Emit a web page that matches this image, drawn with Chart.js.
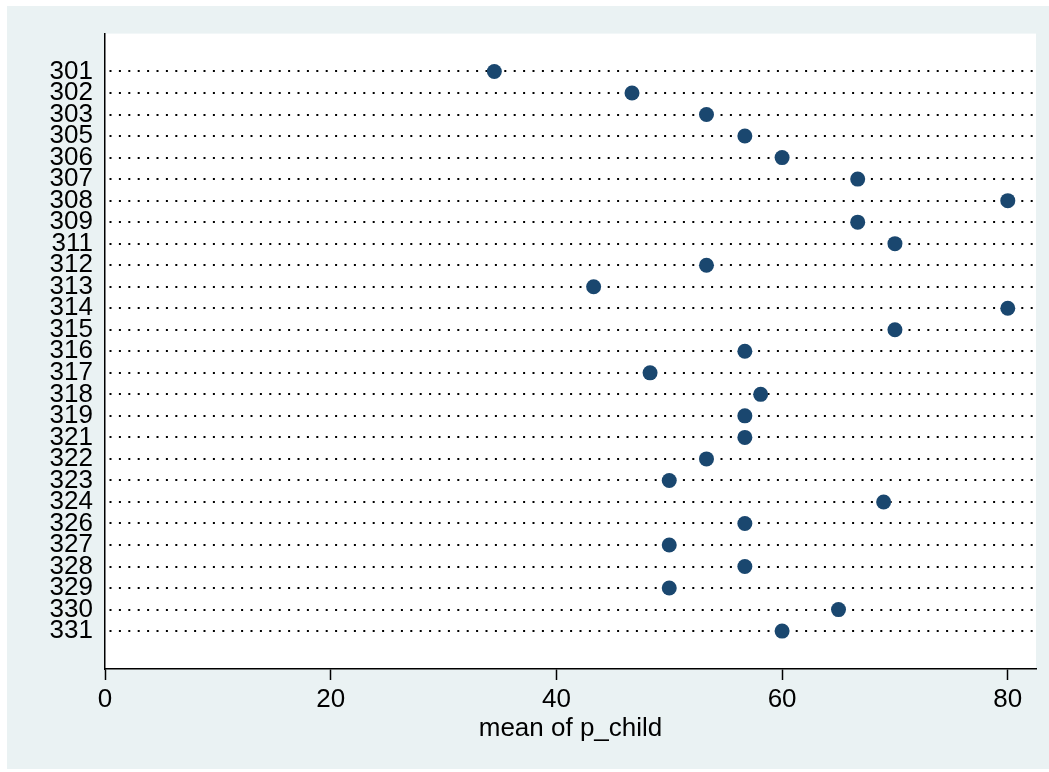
<!DOCTYPE html>
<html>
<head>
<meta charset="utf-8">
<script src="https://cdn.jsdelivr.net/npm/chart.js@4/dist/chart.umd.min.js"></script>
<style>
  html, body { margin: 0; padding: 0; background: #ffffff; }
  #panel { position: absolute; left: 7px; top: 6px; width: 1042px; height: 763px; background: #EAF2F3; }
</style>
</head>
<body>
<div id="panel"><canvas id="dotChart" width="1042" height="763"></canvas></div>
<script>
// Row labels (top to bottom) and mean of p_child for each
const ids = ['301', '302', '303', '305', '306', '307', '308', '309', '311', '312',
             '313', '314', '315', '316', '317', '318', '319', '321', '322', '323',
             '324', '326', '327', '328', '329', '330', '331'];
const meanChild = [34.5, 46.7, 53.3, 56.7, 60.0, 66.7, 80.0, 66.7, 70.0, 53.3,
                   43.3, 80.0, 70.0, 56.7, 48.3, 58.1, 56.7, 56.7, 53.3, 50.0,
                   69.0, 56.7, 50.0, 56.7, 50.0, 65.0, 60.0];
const xTicks = [0, 20, 40, 60, 80];

// white plot region
const plotBg = {
    id: 'plotBg',
    beforeDraw(chart) {
        const a = chart.chartArea;
        const ctx = chart.ctx;
        ctx.save();
        ctx.fillStyle = '#ffffff';
        ctx.fillRect(a.left, a.top, a.right - a.left, a.bottom - a.top);
        ctx.restore();
    }
};

const font = 'Liberation Sans, Arial, sans-serif';

const ctx = document.getElementById('dotChart');
new Chart(ctx, {
    type: 'scatter',
    data: {
        datasets: [{
            data: meanChild.map((v, i) => ({ x: v, y: i })),
            backgroundColor: '#1A476F',
            borderWidth: 0,
            pointRadius: 7.5,
            pointHoverRadius: 7.5
        }]
    },
    options: {
        responsive: false,
        animation: false,
        layout: { padding: { top: 27, right: 13, left: 0, bottom: 0 } },
        plugins: { legend: { display: false }, tooltip: { enabled: false } },
        scales: {
            x: {
                type: 'linear',
                min: 0,
                max: 82.5,
                afterBuildTicks: s => { s.ticks = xTicks.map(v => ({ value: v })); },
                afterFit: s => { s.height = 100; },
                grid: { drawOnChartArea: false, drawTicks: true, tickLength: 11, color: '#000000', tickWidth: 1.5 },
                border: { display: true, color: '#000000', width: 1.5 },
                ticks: { color: '#000000', padding: 4, font: { family: font, size: 26 } },
                title: {
                    display: true,
                    text: 'mean of p_child',
                    color: '#000000',
                    padding: { top: 0, bottom: 25 },
                    font: { family: font, size: 26 }
                }
            },
            y: {
                type: 'linear',
                reverse: true,
                min: -1.76,
                max: ids.length - 1 + 1.76,
                afterBuildTicks: s => { s.ticks = ids.map((c, i) => ({ value: i })); },
                afterFit: s => { s.width = 98; },
                grid: { drawTicks: false, color: '#000000', lineWidth: 2 },
                border: { display: true, color: '#000000', width: 1.5, dash: [2, 7.4], dashOffset: -4 },
                ticks: {
                    color: '#000000',
                    padding: 12,
                    autoSkip: false,
                    font: { family: font, size: 26 },
                    callback: v => ids[v]
                }
            }
        }
    },
    plugins: [plotBg]
});
</script>
</body>
</html>
